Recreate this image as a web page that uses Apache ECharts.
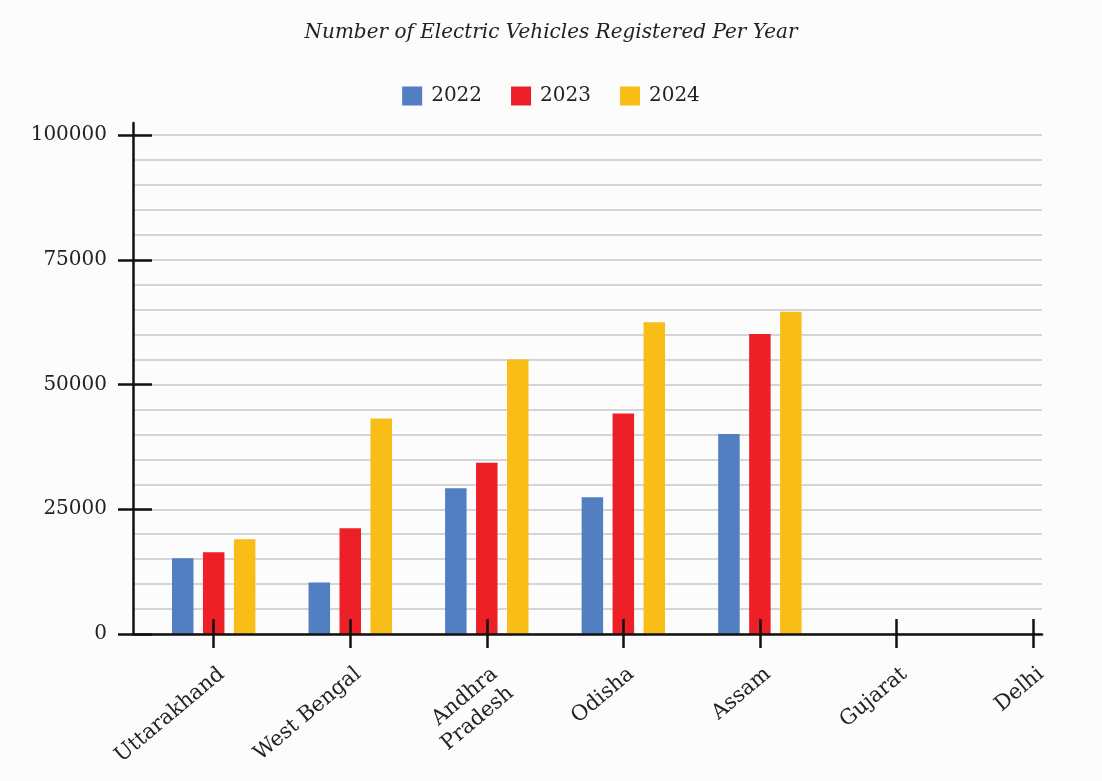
<!DOCTYPE html>
<html>
<head>
<meta charset="utf-8">
<script src="https://cdn.jsdelivr.net/npm/echarts@6/dist/echarts.min.js"></script>
<style>
html,body{margin:0;padding:0;background:#fcfcfd;}
#chart{width:1102px;height:781px;}
</style>
</head>
<body>
<div id="chart"></div>
<script>
const categories = ['Uttarakhand', 'West Bengal', 'Andhra\nPradesh', 'Odisha', 'Assam', 'Gujarat', 'Delhi'];
const years = ['2022', '2023', '2024'];
const values2022 = [15200, 10300, 29200, 27400, 40100];
const values2023 = [16400, 21200, 34300, 44200, 60100];
const values2024 = [19000, 43200, 55000, 62500, 64600];
const yTickLabels = [0, 25000, 50000, 75000, 100000];
const colors = ['#527fc1', '#ed1f27', '#f8bd16'];

const seriesValues = [values2022, values2023, values2024];
const catIdx = categories.map((c, i) => i);
const font = 'DejaVu Serif';
const ink = '#111';
const gridLine = {color: '#c8c8cc', width: 1.5};

const chart = echarts.init(document.getElementById('chart'));
chart.setOption({
  backgroundColor: '#fcfcfd',
  animation: false,
  color: colors,
  title: {
    text: 'Number of Electric Vehicles Registered Per Year',
    left: 'center',
    top: 18,
    textStyle: {fontFamily: font, fontStyle: 'italic', fontWeight: 'normal', fontSize: 20, color: '#222'}
  },
  legend: {
    top: 81,
    left: 'center',
    icon: 'rect',
    itemWidth: 20,
    itemHeight: 19,
    itemGap: 29,
    data: years,
    textStyle: {fontFamily: font, fontSize: 20, color: '#222', padding: [0, 0, 0, 4]}
  },
  grid: [
    {left: 133, right: 60, top: 135, bottom: 147, containLabel: false},
    {left: 133, right: 60, top: 123, bottom: 147, containLabel: false}
  ],
  xAxis: [{
    gridIndex: 0,
    type: 'value',
    min: -0.591,
    max: 6.066,
    position: 'bottom',
    z: 5,
    axisLine: {show: true, onZero: false, lineStyle: {color: ink, width: 2.5}},
    axisTick: {show: true, length: 14, customValues: catIdx, lineStyle: {color: ink, width: 2.5}},
    axisLabel: {
      show: true, customValues: catIdx, rotate: 40, margin: 28, verticalAlign: 'top',
      fontFamily: font, fontSize: 21, color: '#222', lineHeight: 25,
      formatter: v => categories[Math.round(v)]
    },
    splitLine: {show: false}
  }, {
    gridIndex: 0,
    type: 'value',
    min: -0.591,
    max: 6.066,
    position: 'bottom',
    offset: 0,
    z: 5,
    axisLine: {show: false, onZero: false},
    axisTick: {show: true, inside: true, length: 15, customValues: catIdx, lineStyle: {color: ink, width: 2.5}},
    axisLabel: {show: false},
    splitLine: {show: false}
  }, {
    gridIndex: 1,
    type: 'value',
    min: 0,
    max: 1,
    show: false
  }],
  yAxis: [{
    gridIndex: 0,
    type: 'value',
    min: 0,
    max: 100000,
    interval: 25000,
    position: 'left',
    axisLine: {show: false, onZero: false},
    axisTick: {show: true, length: 15, lineStyle: {color: ink, width: 2.5}},
    axisLabel: {margin: 26, fontFamily: font, fontSize: 20, color: '#222',
      customValues: yTickLabels, formatter: v => String(v)},
    splitLine: {show: true, lineStyle: gridLine},
    minorTick: {show: false, splitNumber: 5},
    minorSplitLine: {show: true, lineStyle: gridLine}
  }, {
    gridIndex: 0,
    type: 'value',
    min: 0,
    max: 100000,
    interval: 25000,
    position: 'left',
    offset: 0,
    z: 5,
    axisLine: {show: false, onZero: false},
    axisTick: {show: true, inside: true, length: 19, lineStyle: {color: ink, width: 2.5}},
    axisLabel: {show: false},
    splitLine: {show: false}
  }, {
    gridIndex: 1,
    type: 'value',
    min: 0,
    max: 1,
    position: 'left',
    z: 5,
    axisLine: {show: true, onZero: false, lineStyle: {color: ink, width: 2.5}},
    axisTick: {show: false},
    axisLabel: {show: false},
    splitLine: {show: false}
  }],
  series: years.map((y, k) => ({
    name: y,
    type: 'bar',
    xAxisIndex: 0,
    yAxisIndex: 0,
    barWidth: 21.5,
    barGap: '44%',
    itemStyle: {color: colors[k]},
    data: seriesValues[k].map((v, i) => [i, v])
  })).concat([
    {name: 'ticks', type: 'line', xAxisIndex: 1, yAxisIndex: 1, data: [], silent: true},
    {name: 'frame', type: 'line', xAxisIndex: 2, yAxisIndex: 2, data: [], silent: true}
  ])
});
</script>
</body>
</html>
